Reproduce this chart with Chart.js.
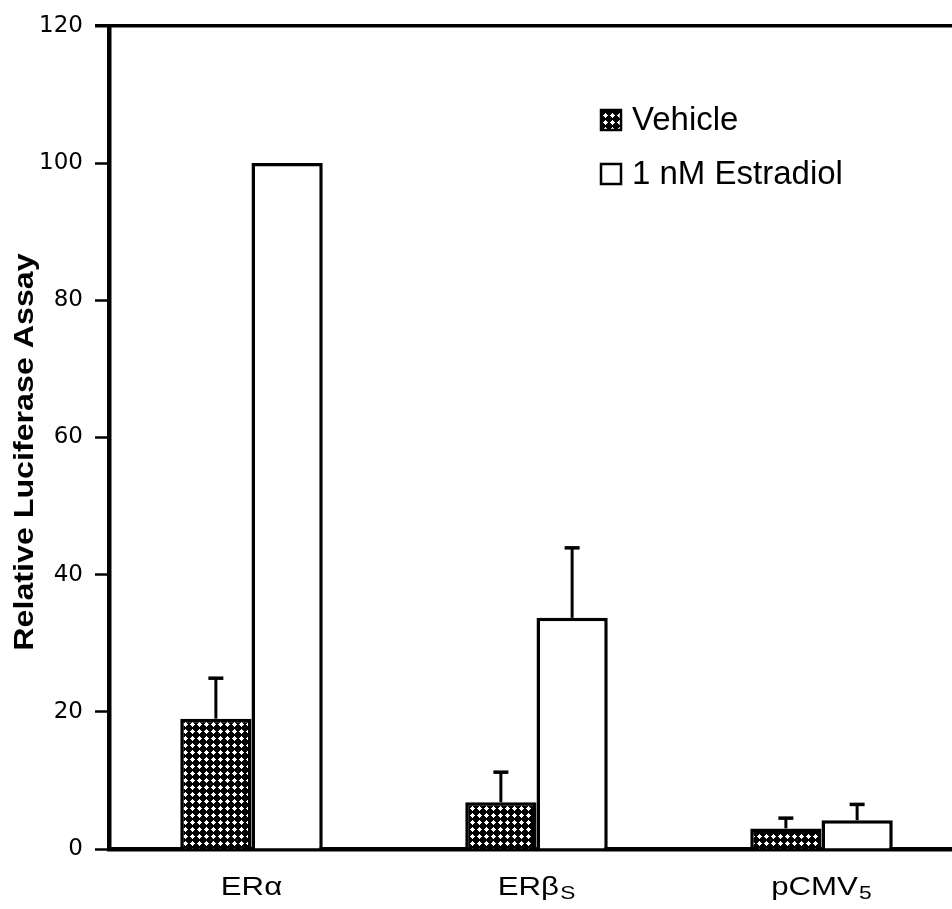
<!DOCTYPE html>
<html>
<head>
<meta charset="utf-8">
<script src="https://cdn.jsdelivr.net/npm/chart.js@4.4.1/dist/chart.umd.min.js"></script>
<style>
  html, body { margin: 0; padding: 0; background: #fff; overflow: hidden; }
  #wrap { width: 952px; height: 909px; overflow: hidden; }
</style>
</head>
<body>
<div id="wrap"><canvas id="chart" width="970" height="909"></canvas></div>
<script>
// Data
const categories = ['ERα', 'ERβ', 'pCMV'];
const categorySubs = ['', 'S', '5'];
const seriesNames = ['Vehicle', '1 nM Estradiol'];
const vehicleValues = [19.0, 6.8, 3.0];
const vehicleErrors = [5.9, 4.4, 1.5];
const estradiolValues = [100, 33.7, 4.2];
const estradiolErrors = [0, 10.2, 2.3];
const yTitle = 'Relative Luciferase Assay';

// Cross-hatch fill used for the vehicle bars
function makeHatch() {
    const c = document.createElement('canvas');
    c.width = 7;
    c.height = 7;
    const g = c.getContext('2d');
    g.fillStyle = '#000';
    g.fillRect(0, 0, 7, 7);
    g.fillStyle = '#fff';
    g.fillRect(3, 1, 1, 1);
    g.fillRect(2, 2, 3, 1);
    g.fillRect(1, 3, 5, 1);
    g.fillRect(2, 4, 3, 1);
    g.fillRect(3, 5, 1, 1);
    return g.createPattern(c, 'repeat');
}
const hatch = makeHatch();

// Error bars (upper side only)
const errorBars = {
    id: 'errorBars',
    afterDatasetsDraw(chart) {
        const ctx = chart.ctx;
        const y = chart.scales.y;
        ctx.save();
        ctx.strokeStyle = '#000';
        chart.data.datasets.forEach((ds, i) => {
            const meta = chart.getDatasetMeta(i);
            meta.data.forEach((bar, j) => {
                const err = ds.errors[j];
                if (!err) return;
                const top = y.getPixelForValue(ds.data[j] + err);
                ctx.lineWidth = 3;
                ctx.beginPath();
                ctx.moveTo(bar.x, bar.y);
                ctx.lineTo(bar.x, top);
                ctx.stroke();
                ctx.lineWidth = 3.5;
                ctx.beginPath();
                ctx.moveTo(bar.x - 7.5, top);
                ctx.lineTo(bar.x + 7.5, top);
                ctx.stroke();
            });
        });
        ctx.restore();
    }
};

// Category labels with subscripts, y title, top frame line, legend
const decorations = {
    id: 'decorations',
    afterDraw(chart) {
        const ctx = chart.ctx;
        const area = chart.chartArea;
        const x = chart.scales.x;
        ctx.save();
        ctx.fillStyle = '#000';

        // top frame line
        ctx.strokeStyle = '#000';
        ctx.lineWidth = 3.5;
        ctx.beginPath();
        ctx.moveTo(95, area.top);
        ctx.lineTo(chart.width, area.top);
        ctx.stroke();

        // x category labels
        categories.forEach((name, i) => {
            const cx = x.getPixelForValue(i);
            ctx.font = '26px "Liberation Sans", Arial, sans-serif';
            const w1 = ctx.measureText(name).width;
            ctx.font = '19px "Liberation Sans", Arial, sans-serif';
            const w2 = categorySubs[i] ? ctx.measureText(categorySubs[i]).width + 1 : 0;
            ctx.save();
            ctx.translate(cx, 895);
            ctx.scale(1.2, 1);
            const start = -(w1 + w2) / 2;
            ctx.textBaseline = 'alphabetic';
            ctx.textAlign = 'left';
            ctx.font = '26px "Liberation Sans", Arial, sans-serif';
            ctx.fillText(name, start, 0);
            if (categorySubs[i]) {
                ctx.font = '19px "Liberation Sans", Arial, sans-serif';
                ctx.fillText(categorySubs[i], start + w1 + 1, 4);
            }
            ctx.restore();
        });

        // y axis title
        ctx.save();
        ctx.translate(25, 452);
        ctx.rotate(-Math.PI / 2);
        ctx.scale(1.15, 1);
        ctx.font = 'bold 28px "Liberation Sans", Arial, sans-serif';
        ctx.textAlign = 'center';
        ctx.textBaseline = 'middle';
        ctx.fillText(yTitle, 0, 0);
        ctx.restore();

        // legend
        const baselines = [130, 184];
        chart.data.datasets.forEach((ds, i) => {
            const b = baselines[i];
            ctx.fillStyle = ds.backgroundColor;
            ctx.fillRect(601, b - 20, 20, 20);
            ctx.lineWidth = 2.5;
            ctx.strokeStyle = '#000';
            ctx.strokeRect(601, b - 20, 20, 20);
            ctx.fillStyle = '#000';
            ctx.font = '33px "Liberation Sans", Arial, sans-serif';
            ctx.textAlign = 'left';
            ctx.textBaseline = 'alphabetic';
            ctx.fillText(ds.label, 632, b);
        });
        ctx.restore();
    }
};

const ctx = document.getElementById('chart').getContext('2d');
const chart = new Chart(ctx, {
    type: 'bar',
    data: {
        labels: categories,
        datasets: [
            {
                label: seriesNames[0],
                data: vehicleValues,
                errors: vehicleErrors,
                backgroundColor: hatch,
                borderColor: '#000',
                borderWidth: 3.5
            },
            {
                label: seriesNames[1],
                data: estradiolValues,
                errors: estradiolErrors,
                backgroundColor: '#fff',
                borderColor: '#000',
                borderWidth: 3.5
            }
        ]
    },
    options: {
        responsive: false,
        animation: false,
        devicePixelRatio: 1,
        layout: { padding: { top: 19, right: 6, left: 0, bottom: 0 } },
        datasets: { bar: { barPercentage: 1, categoryPercentage: 0.5 } },
        plugins: {
            legend: { display: false },
            tooltip: { enabled: false }
        },
        scales: {
            x: {
                grid: { display: false },
                ticks: { display: false },
                border: { display: true, color: '#000', width: 4.5 },
                afterFit(scale) { scale.height = 60; }
            },
            y: {
                min: 0,
                max: 120,
                ticks: {
                    stepSize: 20,
                    color: '#000',
                    padding: 12,
                    font: { family: '"DejaVu Sans", sans-serif', size: 23 }
                },
                grid: {
                    drawOnChartArea: false,
                    drawTicks: true,
                    tickLength: 14,
                    tickWidth: 2.5,
                    tickColor: '#000'
                },
                border: { display: true, color: '#000', width: 4.5 },
                afterFit(scale) { scale.width = 109; }
            }
        }
    },
    plugins: [errorBars, decorations]
});
</script>
</body>
</html>
